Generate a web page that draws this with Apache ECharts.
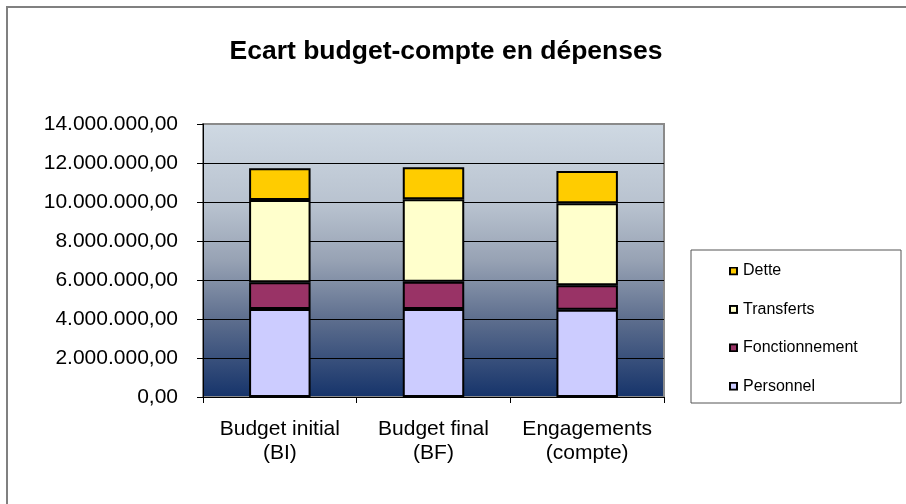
<!DOCTYPE html>
<html>
<head>
<meta charset="utf-8">
<script src="https://cdn.jsdelivr.net/npm/echarts@6/dist/echarts.min.js"></script>
<style>
html,body{margin:0;padding:0;background:#fff;}
#chart{width:906px;height:504px;}
</style>
</head>
<body>
<div id="chart"></div>
<script>
const titleText = 'Ecart budget-compte en dépenses';
const categories = ['Budget initial\n(BI)', 'Budget final\n(BF)', 'Engagements\n(compte)'];
const personnel = [4510000, 4510000, 4480000];
const fonctionnement = [1370000, 1400000, 1250000];
const transferts = [4220000, 4230000, 4200000];
const dette = [1630000, 1640000, 1660000];
const legendOrder = ['Dette', 'Transferts', 'Fonctionnement', 'Personnel'];
const yMin = 0, yMax = 14000000, yStep = 2000000;

const colors = { Personnel: '#ccccff', Fonctionnement: '#993366', Transferts: '#ffffcc', Dette: '#ffcc00' };

function fmt(v) {
  const s = Math.round(v).toString().replace(/\B(?=(\d{3})+(?!\d))/g, '.');
  return s + ',00';
}

function iconFor(c) {
  const svg = '<svg xmlns="http://www.w3.org/2000/svg" width="9" height="9" viewBox="0 0 9 9">' +
    '<rect x="0" y="0" width="9" height="9" fill="#000"/>' +
    '<rect x="2" y="2" width="5" height="5" fill="' + c + '"/></svg>';
  return 'image://data:image/svg+xml;charset=utf-8,' + encodeURIComponent(svg);
}

const chart = echarts.init(document.getElementById('chart'));
const font = 'Liberation Sans, Arial, sans-serif';

function bar(name, data) {
  return {
    name: name, type: 'bar', stack: 'total', data: data, barWidth: '40%',
    itemStyle: { color: colors[name], borderColor: '#000', borderWidth: 2 },
    emphasis: { disabled: true }
  };
}

chart.setOption({
  animation: false,
  backgroundColor: '#fff',
  title: {
    text: titleText, left: 441, top: 33, textAlign: 'center',
    textStyle: { fontFamily: font, fontSize: 26.5, fontWeight: 'bold', color: '#000' }
  },
  graphic: [
    { type: 'rect', shape: { x: 7, y: 7, width: 920, height: 520 }, style: { fill: 'none', stroke: '#808080', lineWidth: 2 }, z: 100 },
    { type: 'rect', shape: { x: 691, y: 250, width: 210, height: 153 }, style: { fill: '#fff', stroke: '#555', lineWidth: 1 }, z: 1 }
  ],
  legend: {
    data: legendOrder.map(function (n) { return { name: n, icon: iconFor(colors[n]) }; }),
    orient: 'vertical', left: 724, top: 258,
    itemWidth: 9, itemHeight: 9, itemGap: 22.4,
    textStyle: { fontFamily: font, fontSize: 16, color: '#000' },
    z: 5
  },
  grid: {
    left: 203, right: 242, top: 124, bottom: 107, show: true,
    borderColor: '#8a8a8a', borderWidth: 2,
    backgroundColor: new echarts.graphic.LinearGradient(0, 0, 0, 1, [
      { offset: 0, color: '#cfd9e3' },
      { offset: 0.3, color: '#b8c2cf' },
      { offset: 0.5, color: '#97a2b4' },
      { offset: 0.72, color: '#5c6d8d' },
      { offset: 1, color: '#15336a' }
    ])
  },
  xAxis: {
    type: 'category', data: categories,
    axisLine: { lineStyle: { color: '#000', width: 1 } },
    axisTick: { show: true, length: 6, lineStyle: { color: '#000' } },
    axisLabel: { fontFamily: font, fontSize: 21, color: '#000', margin: 20, lineHeight: 24, interval: 0 }
  },
  yAxis: {
    type: 'value', min: yMin, max: yMax, interval: yStep,
    axisLine: { show: true, lineStyle: { color: '#000', width: 1 } },
    axisTick: { show: true, length: 6, lineStyle: { color: '#000' } },
    axisLabel: { fontFamily: font, fontSize: 21, color: '#000', margin: 25, formatter: fmt },
    splitLine: { show: true, lineStyle: { color: ['#000', '#000', '#000', '#000', '#000', '#000', '#000', '#8a8a8a'], width: 1 } }
  },
  series: [
    bar('Personnel', personnel),
    bar('Fonctionnement', fonctionnement),
    bar('Transferts', transferts),
    bar('Dette', dette)
  ]
});
</script>
</body>
</html>
